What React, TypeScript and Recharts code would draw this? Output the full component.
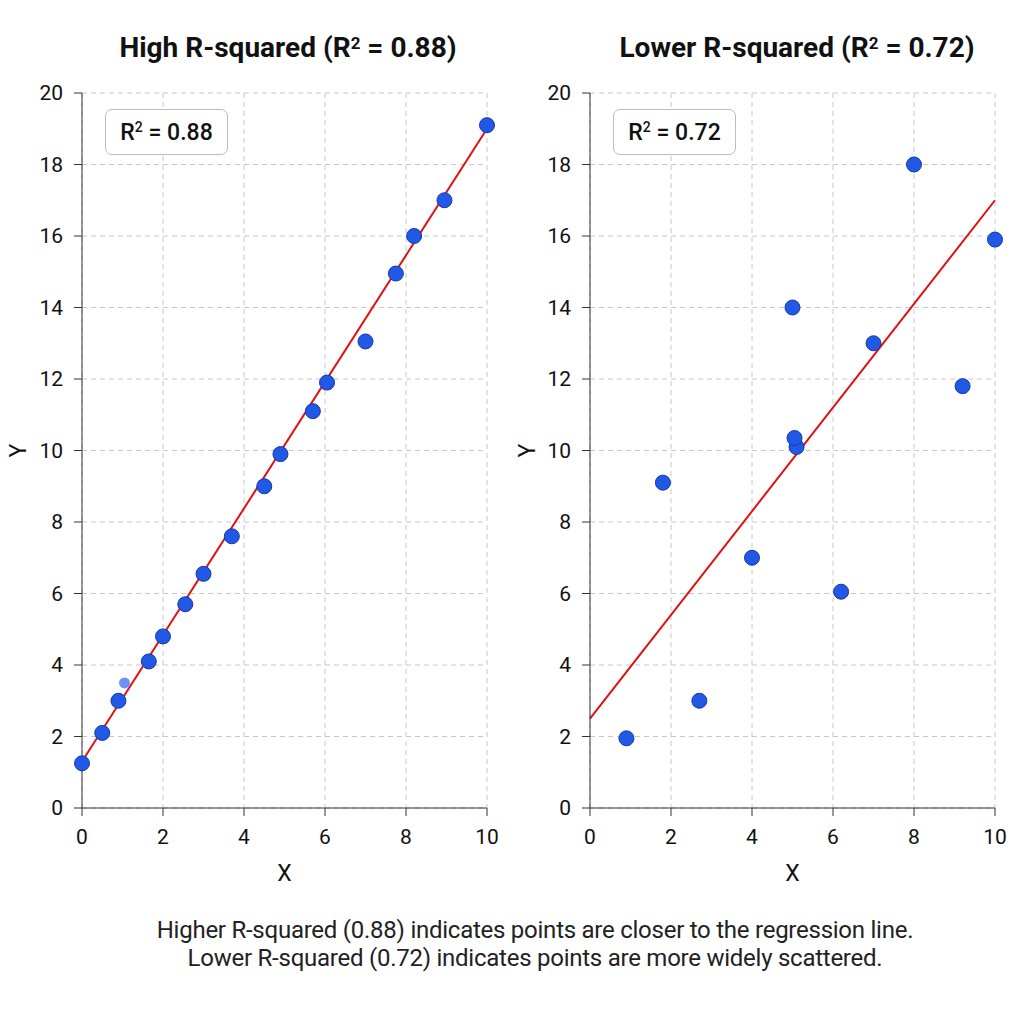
import React from "react";
import {
  ScatterChart,
  Scatter,
  XAxis,
  YAxis,
  CartesianGrid,
  ReferenceLine,
  Label,
} from "recharts";

// Strong-fit sample
const highX = [0, 0.5, 0.9, 1.65, 2.0, 2.55, 3.0, 3.7, 4.5, 4.9, 5.7, 6.05, 7.0, 7.75, 8.2, 8.95, 10];
const highY = [1.25, 2.1, 3.0, 4.1, 4.8, 5.7, 6.55, 7.6, 9.0, 9.9, 11.1, 11.9, 13.05, 14.95, 16.0, 17.0, 19.1];
// faint duplicate observation
const highFaintX = [1.05];
const highFaintY = [3.5];

// Weak-fit sample
const lowX = [5.1, 0.9, 1.8, 2.7, 4.0, 5.0, 5.05, 6.2, 7.0, 8.0, 9.2, 10];
const lowY = [10.1, 1.95, 9.1, 3.0, 7.0, 14.0, 10.35, 6.05, 13.0, 18.0, 11.8, 15.9];

// Fitted lines: intercept, slope
const highFit = [1.3, 1.77];
const lowFit = [2.5, 1.45];

const xTicks = [0, 2, 4, 6, 8, 10];
const yTicks = [0, 2, 4, 6, 8, 10, 12, 14, 16, 18, 20];

const titles = ["High R-squared (R", "Lower R-squared (R"];
const rValues = ["0.88", "0.72"];
const notes = [
  "Higher R-squared (0.88) indicates points are closer to the regression line.",
  "Lower R-squared (0.72) indicates points are more widely scattered.",
];

const toPoints = (xs: number[], ys: number[]) => xs.map((x, i) => ({ x, y: ys[i] }));

const FONT = "Roboto, 'Noto Sans', Arial, sans-serif";
const POINT_FILL = "#2258e6";
const POINT_STROKE = "#1737a6";

const Dot = (props: any) => {
  const { cx, cy } = props;
  return <circle cx={cx} cy={cy} r={7.5} fill={POINT_FILL} stroke={POINT_STROKE} strokeWidth={1} />;
};
const FaintDot = (props: any) => {
  const { cx, cy } = props;
  return <circle cx={cx} cy={cy} r={5.5} fill="#3a6ef0" fillOpacity={0.75} />;
};

type PanelProps = {
  left: number;
  yAxisWidth: number;
  rightMargin: number;
  yLabelOffset: number;
  points: { x: number; y: number }[];
  faint?: { x: number; y: number }[];
  fit: number[];
};

const tickStyle = { fill: "#111", fontSize: 21, fontFamily: FONT };
const labelStyle = { fill: "#111", fontSize: 23, fontFamily: FONT };

const Panel = ({ left, yAxisWidth, rightMargin, yLabelOffset, points, faint, fit }: PanelProps) => (
  <div style={{ position: "absolute", left, top: 0 }}>
    <ScatterChart
      width={512}
      height={1024}
      margin={{ top: 93, right: rightMargin, bottom: 156, left: 0 }}
    >
      <CartesianGrid stroke="#c8c8c8" strokeDasharray="5 4" />
      <XAxis
        type="number"
        dataKey="x"
        domain={[0, 10]}
        ticks={xTicks}
        height={60}
        stroke="#333"
        tickSize={8}
        tickMargin={13}
        tick={tickStyle}
      >
        <Label value="X" position="insideBottom" offset={-13} style={labelStyle} />
      </XAxis>
      <YAxis
        type="number"
        dataKey="y"
        domain={[0, 20]}
        ticks={yTicks}
        width={yAxisWidth}
        stroke="#333"
        tickSize={8}
        tickMargin={11}
        tick={tickStyle}
      >
        <Label
          value="Y"
          angle={-90}
          position="insideLeft"
          offset={yLabelOffset}
          style={{ ...labelStyle, textAnchor: "middle" }}
        />
      </YAxis>
      <ReferenceLine
        segment={[
          { x: 0, y: fit[0] },
          { x: 10, y: fit[0] + fit[1] * 10 },
        ]}
        stroke="#e01010"
        strokeWidth={2}
        ifOverflow="extendDomain"
      />
      {faint && <Scatter data={faint} shape={FaintDot} isAnimationActive={false} />}
      <Scatter data={points} shape={Dot} isAnimationActive={false} />
    </ScatterChart>
  </div>
);

const Title = ({ center, i }: { center: number; i: number }) => (
  <div
    style={{
      position: "absolute",
      left: center - 250,
      width: 500,
      top: 31,
      lineHeight: "34px",
      textAlign: "center",
      fontFamily: FONT,
      fontWeight: 700,
      fontSize: 28,
      color: "#111",
    }}
  >
    {titles[i]}
    <sup style={{ fontSize: 17, verticalAlign: "top", position: "relative", top: -5 }}>2</sup>
    {" = " + rValues[i] + ")"}
  </div>
);

const StatBox = ({ left, i }: { left: number; i: number }) => (
  <div
    style={{
      position: "absolute",
      left,
      top: 109,
      width: 123,
      height: 46,
      boxSizing: "border-box",
      border: "1.5px solid #bdbdbd",
      borderRadius: 7,
      background: "#fff",
      fontFamily: FONT,
      fontWeight: 500,
      fontSize: 23,
      color: "#111",
      display: "flex",
      alignItems: "center",
      justifyContent: "center",
    }}
  >
    R<sup style={{ fontSize: 14, verticalAlign: "top", position: "relative", top: -5 }}>2</sup>
    {"\u00a0= " + rValues[i]}
  </div>
);

export default function App() {
  return (
    <div
      style={{
        position: "fixed",
        left: 0,
        top: 0,
        width: 1024,
        height: 1024,
        background: "#fff",
        overflow: "hidden",
      }}
    >
      <Title center={288} i={0} />
      <Title center={797} i={1} />
      <Panel left={0} yAxisWidth={82} rightMargin={25} yLabelOffset={18} points={toPoints(highX, highY)} faint={toPoints(highFaintX, highFaintY)} fit={highFit} />
      <Panel left={512} yAxisWidth={78} rightMargin={29} yLabelOffset={15} points={toPoints(lowX, lowY)} fit={lowFit} />
      <StatBox left={105} i={0} />
      <StatBox left={613} i={1} />
      <div
        style={{
          position: "absolute",
          left: 0,
          width: 1070,
          top: 916,
          textAlign: "center",
          fontFamily: FONT,
          fontSize: 24,
          letterSpacing: -0.25,
          lineHeight: "28px",
          color: "#222",
        }}
      >
        <div>{notes[0]}</div>
        <div>{notes[1]}</div>
      </div>
    </div>
  );
}
